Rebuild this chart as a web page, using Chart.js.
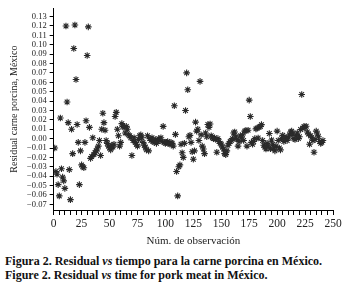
<!DOCTYPE html>
<html lang="es">
<head>
<meta charset="UTF-8">
<title>Residual vs tiempo</title>
<script src="https://cdn.jsdelivr.net/npm/chart.js"></script>
<style>
    body {
        margin: 0;
        background: #fff;
        font-family: "Liberation Serif", "DejaVu Serif", serif;
    }
    .chart-container {
        position: absolute;
        left: 0;
        top: 0;
        width: 347px;
        height: 250px;
    }
    .caption {
        position: absolute;
        left: 5px;
        top: 254px;
        font-size: 12px;
        font-weight: bold;
        line-height: 14px;
        color: #111;
        white-space: nowrap;
    }
</style>
</head>
<body>
<div class="chart-container">
    <canvas id="residualChart"></canvas>
</div>
<div class="caption">
    Figura 2. Residual <i>vs</i> tiempo para la carne porcina en México.<br>
    Figure 2. Residual <i>vs</i> time for pork meat in México.
</div>
<script>
// residuales, una observación por valor (1, 2, 3, ...)
const residuals = [
    -0.010, -0.035, -0.038, -0.049, -0.061, 0.022, -0.032, -0.041, -0.045, -0.053,
    0.120, 0.039, 0.017, -0.033, -0.065, 0.010, -0.016, 0.096, 0.121, 0.063,
    0.015, -0.004, -0.049, -0.013, -0.028, -0.030, -0.031, -0.004, 0.019, 0.0885,
    0.119, 0.012, -0.021, -0.019, 0.001, -0.017, -0.015, -0.013, -0.011, -0.008,
    -0.002, -0.018, 0.010, 0.027, 0.017, 0.009, -0.002, -0.005, -0.008, -0.010,
    -0.012, -0.007, -0.009, -0.006, 0.0235, 0.028, 0.010, 0.003, -0.008, -0.004,
    0.016, 0.013, 0.012, 0.006, 0.013, 0.010, 0.004, 0.003, 0.001, -0.018,
    -0.002, 0.001, -0.004, -0.006, -0.008, -0.001, 0.003, 0.004, 0.001, -0.004,
    -0.007, -0.009, -0.012, 0.003, -0.013, 0.000, -0.002, 0.001, -0.003, -0.004,
    -0.001, -0.005, -0.003, 0.000, -0.002, 0.001, -0.003, 0.013, -0.004, -0.005,
    -0.004, -0.003, -0.005, -0.006, -0.004, -0.005, -0.008, 0.035, 0.0045, -0.035,
    -0.061, -0.030, -0.028, -0.006, -0.015, -0.020, -0.005, 0.030, 0.070, 0.052,
    0.002, 0.0035, -0.004, -0.014, -0.022, -0.013, 0.0176, 0.008, 0.010, -0.002,
    0.061, 0.004, -0.008, -0.011, -0.016, 0.006, 0.002, 0.015, 0.012, 0.0156,
    0.003, 0.001, 0.000, 0.001, -0.001, -0.0145, 0.000, -0.003, -0.005, -0.006,
    -0.009, -0.011, -0.016, -0.017, -0.013, -0.007, -0.005, -0.003, -0.002, 0.000,
    0.006, 0.007, 0.002, -0.001, -0.008, -0.003, 0.003, 0.001, 0.004, -0.002,
    0.008, 0.0085, -0.008, 0.009, 0.041, 0.0235, -0.004, -0.006, -0.003, 0.000,
    0.0104, 0.011, 0.0007, 0.0124, 0.013, 0.0149, -0.002, -0.007, -0.009, -0.011,
    -0.005, -0.008, 0.0055, -0.0107, -0.0014, -0.006, -0.010, -0.013, -0.008, 0.008,
    -0.002, -0.010, -0.012, 0.000, 0.0035, -0.003, 0.000, 0.001, -0.002, 0.001,
    0.004, 0.007, 0.008, 0.005, 0.000, -0.001, 0.003, 0.006, 0.000, 0.002,
    0.0097, 0.047, 0.011, 0.013, 0.012, 0.0132, 0.007, 0.005, -0.006, 0.003,
    0.001, -0.002, -0.0145, -0.001, 0.008, 0.005, 0.002, -0.003, -0.005, -0.004,
    -0.002
];
const observations = residuals.map((v, i) => i + 1);
const xLabelEvery = 25;

const serif = '"Liberation Serif", "DejaVu Serif", serif';
const points = observations.map((obs, i) => ({ x: obs, y: residuals[i] }));

const ctx = document.getElementById('residualChart').getContext('2d');
new Chart(ctx, {
    type: 'scatter',
    data: {
        datasets: [{
            label: 'Residual',
            data: points,
            pointStyle: 'star',
            radius: 3.3,
            borderColor: '#2a2a2a',
            backgroundColor: '#2a2a2a',
            borderWidth: 1.1
        }]
    },
    options: {
        responsive: true,
        maintainAspectRatio: false,
        animation: false,
        layout: {
            padding: { left: 8, top: 0, right: 14, bottom: 2 }
        },
        plugins: {
            legend: { display: false },
            tooltip: { enabled: false }
        },
        scales: {
            x: {
                type: 'linear',
                min: 0,
                max: 250,
                grid: { drawOnChartArea: false, color: '#000', tickLength: 5 },
                border: { display: true, color: '#000', width: 1 },
                ticks: {
                    stepSize: 5,
                    autoSkip: false,
                    maxRotation: 0,
                    color: '#222',
                    font: { family: serif, size: 11.5 },
                    padding: 2,
                    callback: (value) => (value % xLabelEvery === 0 ? String(value) : '')
                },
                title: {
                    display: true,
                    text: 'Núm. de observación',
                    color: '#222',
                    font: { family: serif, size: 11 },
                    padding: { top: 2, bottom: 0 }
                }
            },
            y: {
                min: -0.076,
                max: 0.139,
                grid: { drawOnChartArea: false, color: '#000', tickLength: 4 },
                border: { display: true, color: '#000', width: 1 },
                ticks: {
                    stepSize: 0.01,
                    includeBounds: false,
                    autoSkip: false,
                    color: '#222',
                    font: { family: serif, size: 8.5 },
                    padding: 3,
                    callback: (value) => {
                        if (Math.abs(value) < 1e-9) return '0.00';
                        const s = Math.abs(value).toFixed(2);
                        return value < 0 ? '\u2212' + s : s;
                    }
                },
                title: {
                    display: true,
                    text: 'Residual carne porcina, México',
                    color: '#222',
                    font: { family: serif, size: 10 },
                    padding: { top: 0, bottom: 4 }
                }
            }
        }
    }
});
</script>
</body>
</html>
